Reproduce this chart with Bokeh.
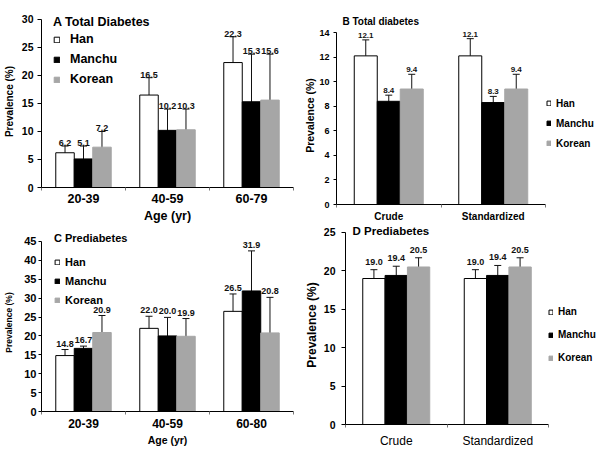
from bokeh.plotting import figure
from bokeh.models import (ColumnDataSource, Range1d, FixedTicker, Whisker,
                          TeeHead, Legend, LegendItem, Title, Label, LabelSet)
from bokeh.layouts import row, column
from bokeh.transform import dodge
from bokeh.embed import file_html
from bokeh.resources import INLINE
from bokeh.core.properties import value

FONT = "Liberation Sans"
groups = ["Han", "Manchu", "Korean"]

# Panel A: total diabetes by age
ages_a = ["20-39", "40-59", "60-79"]
a_val = {"Han": [6.2, 16.5, 22.3], "Manchu": [5.1, 10.2, 15.3], "Korean": [7.2, 10.3, 15.6]}
a_lo = {"Han": [4.8, 14.3, 18.1], "Manchu": [2.7, 6.3, 6.7], "Korean": [4.4, 6.7, 7.5]}
a_hi = {"Han": [7.4, 19.6, 26.9], "Manchu": [7.4, 14.0, 23.8], "Korean": [10.0, 14.0, 23.8]}

# Panel B: total diabetes, crude / standardized
kinds = ["Crude", "Standardized"]
b_val = {"Han": [12.1, 12.1], "Manchu": [8.4, 8.3], "Korean": [9.4, 9.4]}
b_lo = {"Han": [10.9, 11.1], "Manchu": [7.9, 7.8], "Korean": [8.3, 8.5]}
b_hi = {"Han": [13.4, 13.5], "Manchu": [8.9, 8.8], "Korean": [10.6, 10.6]}

# Panel C: prediabetes by age
ages_c = ["20-39", "40-59", "60-80"]
c_val = {"Han": [14.8, 22.0, 26.5], "Manchu": [16.7, 20.0, 31.9], "Korean": [20.9, 19.9, 20.8]}
c_lo = {"Han": [13.0, 19.4, 22.0], "Manchu": [16.1, 15.1, 21.3], "Korean": [16.1, 15.2, 11.7]}
c_hi = {"Han": [16.4, 25.2, 31.1], "Manchu": [17.3, 24.9, 42.5], "Korean": [25.4, 24.6, 30.2]}

# Panel D: prediabetes, crude / standardized
d_val = {"Han": [19.0, 19.0], "Manchu": [19.4, 19.4], "Korean": [20.5, 20.5]}
d_lo = {"Han": [17.6, 17.7], "Manchu": [18.2, 18.1], "Korean": [19.1, 19.3]}
d_hi = {"Han": [20.15, 20.15], "Manchu": [20.6, 20.7], "Korean": [21.7, 21.7]}

FILL = {"Han": "white", "Manchu": "black", "Korean": "#a6a6a6"}
LINE = {"Han": "black", "Manchu": "black", "Korean": "#a6a6a6"}
OFFS = {"Han": -0.22, "Manchu": 0.0, "Korean": 0.22}
W, H = 300, 225


def panel(cats, vals, lows, highs, c):
    n = len(cats)
    frame_w = W - c["bl"] - c["br"]
    axis_px = c.get("axis_px", frame_w)
    # category axis on a numeric scale (category i centred at i + 0.5);
    # the frame may be wider than the axis so that a legend fits beside it
    x_range = Range1d(0, n * frame_w / axis_px)
    p = figure(x_range=x_range, y_range=Range1d(0, c["yend"]),
               width=W, height=H, output_backend="svg", toolbar_location=None,
               title=None, min_border_left=c["bl"], min_border_right=c["br"],
               min_border_top=c["bt"], min_border_bottom=c["bb"])
    p.outline_line_color = None
    p.xgrid.visible = False
    p.ygrid.visible = False
    p.background_fill_color = "white"
    p.border_fill_color = "white"

    centers = [i + 0.5 for i in range(n)]
    renderers = {}
    for g in groups:
        src = ColumnDataSource(dict(cat=centers, val=vals[g], lo=lows[g], hi=highs[g],
                                    lbl=[f"{v:.1f}" for v in vals[g]]))
        xs = dodge("cat", OFFS[g])
        r = p.vbar(x=xs, top="val", width=0.22, fill_color=FILL[g], line_color=LINE[g],
                   line_width=1, source=src)
        renderers[g] = r
        w = Whisker(base=xs, lower="lo", upper="hi", source=src, line_color="#111111",
                    line_width=1,
                    upper_head=TeeHead(size=7, line_color="#111111", line_width=1),
                    lower_head=TeeHead(size=7, line_color="#111111", line_width=1))
        p.add_layout(w)
        ls = LabelSet(x=xs, y="hi", text="lbl", source=src, text_align="center",
                      text_baseline="bottom", y_offset=c["voff"],
                      text_font=value(FONT), text_font_size=c["vfs"],
                      text_font_style="bold", text_color="#111111")
        p.add_layout(ls)

    yticks = c["yticks"]
    p.yaxis.bounds = (yticks[0], yticks[-1])
    p.yaxis.ticker = FixedTicker(ticks=yticks)
    p.yaxis.major_label_text_font = FONT
    p.yaxis.major_label_text_font_size = c["ytfs"]
    p.yaxis.major_label_text_font_style = "bold"
    p.yaxis.major_label_text_color = "black"
    p.yaxis.major_tick_out = c["ytout"]
    p.yaxis.major_tick_in = 0
    p.yaxis.minor_tick_line_color = None
    p.yaxis.major_label_standoff = c["ystand"]
    p.yaxis.axis_label = "Prevalence (%)"
    p.yaxis.axis_label_text_font = FONT
    p.yaxis.axis_label_text_font_size = c["ylfs"]
    p.yaxis.axis_label_text_font_style = "bold"
    p.yaxis.axis_label_text_color = "black"
    p.yaxis.axis_label_standoff = c["ylstand"]
    p.yaxis.axis_line_color = "black"
    p.yaxis.major_tick_line_color = "black"

    p.xaxis.ticker = FixedTicker(ticks=centers, minor_ticks=list(range(n + 1)))
    p.xaxis.major_label_overrides = {x: lab for x, lab in zip(centers, cats)}
    p.xaxis.bounds = (0, n)
    p.xaxis.major_tick_line_color = None
    p.xaxis.major_tick_out = 0
    p.xaxis.major_tick_in = 0
    p.xaxis.minor_tick_line_color = "#777777"
    p.xaxis.minor_tick_out = 3
    p.xaxis.minor_tick_in = 0
    p.xaxis.major_label_text_font = FONT
    p.xaxis.major_label_text_font_size = c["xtfs"]
    p.xaxis.major_label_text_font_style = c.get("xtstyle", "bold")
    p.xaxis.major_label_text_color = "black"
    p.xaxis.major_label_standoff = c["xstand"]
    p.xaxis.axis_line_color = "black"
    if c.get("xlabel"):
        p.xaxis.axis_label = c["xlabel"]
        p.xaxis.axis_label_text_font = FONT
        p.xaxis.axis_label_text_font_size = c["xlfs"]
        p.xaxis.axis_label_text_font_style = "bold"
        p.xaxis.axis_label_text_color = "black"
        p.xaxis.axis_label_standoff = c["xlstand"]

    leg = Legend(items=[LegendItem(label=g, renderers=[renderers[g]]) for g in groups],
                 location=c["legloc"], padding=0, margin=0, spacing=0,
                 border_line_color=None, background_fill_alpha=0,
                 glyph_width=c["gw"], glyph_height=c["gh"], label_standoff=c["lstand"],
                 label_height=c["lh"], label_text_font=FONT,
                 label_text_font_size=c["lfs"], label_text_font_style="bold",
                 label_text_color="black")
    if c.get("legtitle"):
        leg.title = c["legtitle"]
        leg.title_text_font = FONT
        leg.title_text_font_size = c["ltfs"]
        leg.title_text_font_style = "bold"
        leg.title_text_color = "black"
        leg.title_standoff = c["tstand"]
    p.add_layout(leg)

    if c.get("title"):
        t = Title(text=c["title"], align="left", offset=c["toff"], standoff=0,
                  text_font=FONT, text_font_size=c["tfs"], text_font_style="bold",
                  text_color="black")
        p.add_layout(t, "above")
    if c.get("intitle"):
        lab = Label(x=0, y=c["yend"], x_offset=c["toff"], y_offset=c["tyoff"],
                    text=c["intitle"], text_font=FONT, text_font_size=c["tfs"],
                    text_font_style="bold", text_baseline="middle", text_color="black")
        p.add_layout(lab)
    return p


pA = panel(ages_a, a_val, a_lo, a_hi, dict(
    yend=30.7, yticks=[0, 5, 10, 15, 20, 25, 30], bl=41, br=7, bt=15, bb=33,
    ytfs="10.5px", ytout=4, ystand=4, ylfs="10px", ylstand=4,
    xtfs="12.5px", xstand=3, xlabel="Age (yr)", xlfs="12.5px", xlstand=3,
    vfs="9px", voff=0,
    legloc=(12, 98), gw=7, gh=7, lstand=10, lh=20, lfs="12.5px",
    legtitle="A Total Diabetes", ltfs="12.5px", tstand=0))

pB = panel(kinds, b_val, b_lo, b_hi, dict(
    axis_px=209,
    yend=14.49, yticks=[0, 2, 4, 6, 8, 10, 12, 14], bl=36, br=0, bt=26, bb=21,
    ytfs="9px", ytout=3, ystand=4, ylfs="10.5px", ylstand=0,
    xtfs="10px", xstand=3,
    vfs="8px", voff=2,
    legloc=(210, 51), gw=5, gh=6, lstand=5, lh=20, lfs="10px",
    title="B Total diabetes", tfs="10px", toff=6))

pC = panel(ages_c, c_val, c_lo, c_hi, dict(
    yend=47.1, yticks=[0, 5, 10, 15, 20, 25, 30, 35, 40, 45], bl=41, br=7, bt=8, bb=39,
    ytfs="11px", ytout=3, ystand=2, ylfs="8.5px", ylstand=7,
    xtfs="12px", xstand=4, xlabel="Age (yr)", xlfs="10.5px", xlstand=3,
    vfs="9px", voff=3,
    legloc=(13, 102), gw=6, gh=6, lstand=5, lh=19, lfs="11px",
    legtitle="C Prediabetes", ltfs="11px", tstand=8))

pD = panel(kinds, d_val, d_lo, d_hi, dict(
    axis_px=203,
    yend=25.9, yticks=[0, 5, 10, 15, 20, 25], bl=45, br=0, bt=0, bb=20,
    ytfs="10.5px", ytout=4, ystand=6, ylfs="12px", ylstand=2,
    xtfs="12px", xtstyle="normal", xstand=6,
    vfs="9px", voff=5,
    legloc=(203, 55), gw=5, gh=6, lstand=5, lh=23, lfs="10px",
    intitle="D Prediabetes", tfs="11.5px", toff=7, tyoff=-5.5))

# each plot wrapped on its own so that the panels' frames are not aligned to each other
layout = row(column(row(pA), row(pC)), column(row(pB), row(pD)))
open("out.html", "w").write(file_html(layout, INLINE))
